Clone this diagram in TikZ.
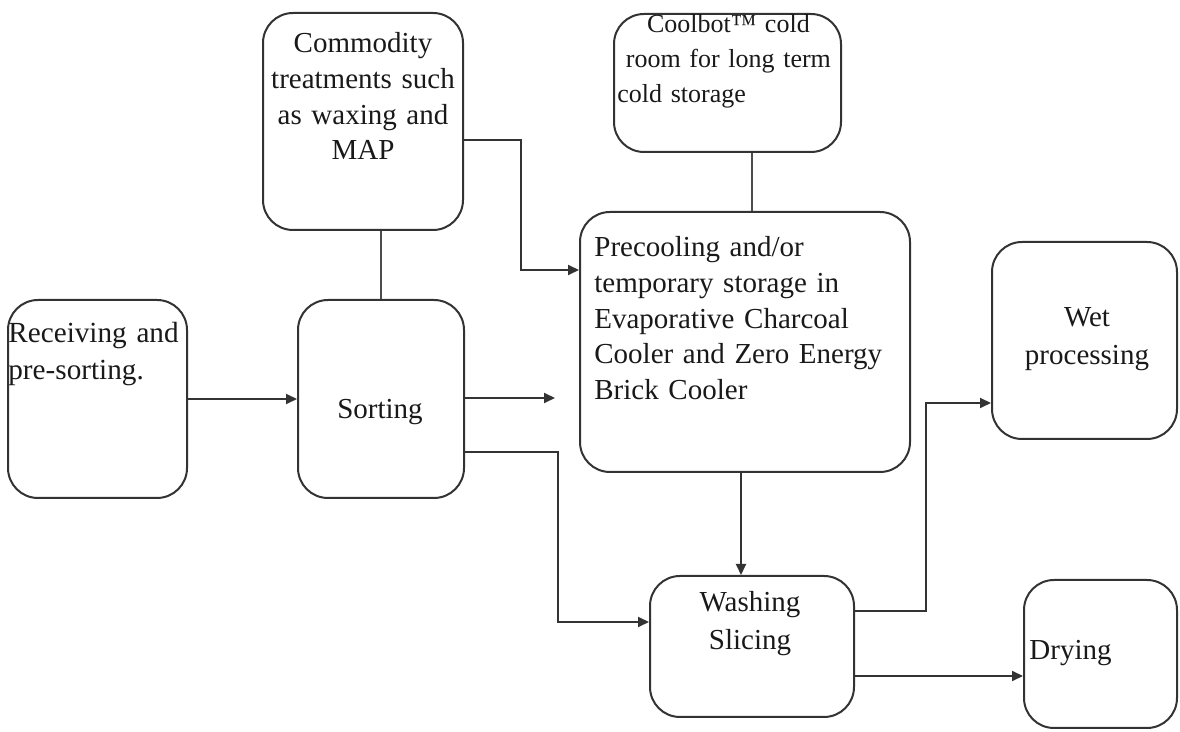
\documentclass[tikz,border=0pt]{standalone}
\usepackage{fontspec}
\setmainfont{Liberation Serif}
\usepackage{tikz}
\usetikzlibrary{positioning,arrows.meta,fit,calc}

\begin{document}
\begin{tikzpicture}[x=0.5pt, y=-0.5pt,
  box/.style={draw=black!80, line width=1pt, rounded corners=15pt, inner sep=0pt},
  txt/.style={inner sep=0pt, text=black!90, font=\fontsize{14.5}{17.8}\selectfont},
  arr/.style={draw=black!80, line width=1pt, -{Triangle[length=5.5pt,width=5pt]}},
  link/.style={draw=black!70, line width=1pt}]
  \useasboundingbox (0,0) rectangle (1180,732);
  % boxes
  \node[box, fit={(8,300) (187,498)}] (recv) {};
  \node[box, fit={(298,300) (464,498)}] (sort) {};
  \node[box, fit={(263,13) (463,230)}] (comm) {};
  \node[box, fit={(614,14) (841,152)}] (cool) {};
  \node[box, fit={(580,212) (910,472)}] (prec) {};
  \node[box, fit={(992,242) (1177,439)}] (wet) {};
  \node[box, fit={(650,576) (854,717)}] (wash) {};
  \node[box, fit={(1024,580) (1177,728)}] (dry) {};
  % texts (text width -> anchor base sits on the first line)
  \node[txt, font=\fontsize{14.6}{18.5}\selectfont, text width=100pt, align=left, anchor=base west] (recv-t) at (8,343) {Receiving and\\pre-sorting.};
  \node[txt, anchor=base] (sort-t) at (380,419) {Sorting};
  \node[txt, text width=98pt, align=center, anchor=base] (comm-t) at (363,53) {Commodity\\treatments such\\as waxing and\\MAP};
  \node[txt, font=\fontsize{13}{17.5}\selectfont, text width=111pt, align=left, anchor=base west] (cool-t) at (617,33)
    {\makebox[111pt]{Coolbot™ cold}\\\makebox[111pt]{room for long term}\\cold storage};
  \node[txt, text width=158pt, align=left, anchor=base west] (prec-t) at (594,257)
    {Precooling and/or\\temporary storage in\\Evaporative Charcoal\\Cooler and Zero Energy\\Brick Cooler};
  \node[txt, font=\fontsize{14.5}{19}\selectfont, text width=90pt, align=center, anchor=base] (wet-t) at (1087,327) {Wet\\processing};
  \node[txt, font=\fontsize{14.5}{19}\selectfont, text width=90pt, align=center, anchor=base] (wash-t) at (750,612) {Washing\\Slicing};
  \node[txt, anchor=base west] (dry-t) at (1029,660) {Drying};
  % connectors
  \coordinate (stub) at (555,398);
  \draw[arr] (recv) -- (sort);
  \draw[link] (sort.north) -- (sort.north |- comm.south);
  \draw[arr] ($(comm.east)+(0,18.5)$) -- ++(57,0) |- ($(prec.west)+(0,-72)$);
  \draw[arr] (sort.east |- stub) -- (stub);
  \draw[arr] ($(sort.east)+(0,53)$) -- ++(93,0) |- ($(wash.west)+(0,-24.5)$);
  \draw[link] ($(prec.north)+(7,0)$) -- ($(cool.south)+(24.5,0)$);
  \draw[arr] ($(prec.south)+(-4,0)$) -- ($(wash.north)+(-11,0)$);
  \draw[arr] ($(wash.east)+(0,-35.5)$) -- ++(71,0) |- ($(wet.west)+(0,62.5)$);
  \draw[arr] ($(wash.east)+(0,29.5)$) -- ($(dry.west)+(0,22)$);
\end{tikzpicture}
\end{document}
